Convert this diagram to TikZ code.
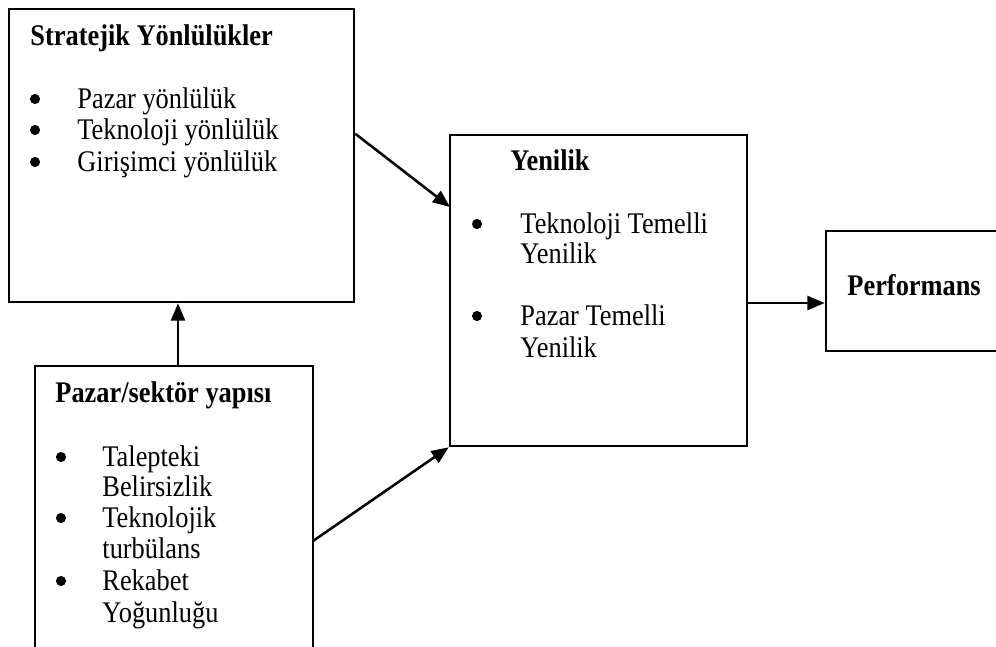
\documentclass[tikz,border=0pt]{standalone}
\usepackage{fontspec}
\setmainfont{Liberation Serif}[FakeStretch=0.88]
\usetikzlibrary{arrows.meta,fit}

\tikzset{
  box/.style={draw, line width=1.1pt, inner sep=0pt},
  txt/.style={font=\fontsize{13}{15}\selectfont},
  head/.style={anchor=base west, inner sep=0pt, font=\fontsize{13}{15}\selectfont\bfseries},
  item/.style={anchor=base west, inner sep=0pt, txt},
  dot/.style={circle, fill, inner sep=0pt, minimum size=4.4pt},
  link/.style={line width=1.1pt, -{Triangle[length=7.5pt,width=6pt]}}
}

\begin{document}
\begin{tikzpicture}[x=0.434pt, y=-0.434pt]

  \useasboundingbox (0,0) rectangle (996,646);
  \clip (0,0) rectangle (996,646);

  % Kutular
  \node[box, fit={(9,9) (354,302)}] (strat) {};
  \node[box, fit={(450,135) (747,446)}] (yen) {};
  \node[box, fit={(826,231) (1010,351)}] (perf) {};
  \node[box, fit={(35,366) (313,660)}] (yapi) {};

  % Stratejik Yönlülükler
  \node[head] (stratH) at (30,45) {Stratejik Yönlülükler};
  \foreach \y/\txt in {108/Pazar yönlülük, 139/Teknoloji yönlülük, 171/Girişimci yönlülük}{
    \node[dot] (sb\y) at (35,\y-9) {};
    \node[item] (st\y) at (77,\y) {\txt};
  }

  % Yenilik
  \node[head] (yenH) at (510,170) {Yenilik};
  \foreach \y in {233,325}{
    \node[dot] (yb\y) at (477,\y-9) {};
  }
  \foreach \y/\txt in {233/Teknoloji Temelli, 263/Yenilik, 325/Pazar Temelli, 357/Yenilik}{
    \node[item] (yt\y) at (520,\y) {\txt};
  }

  % Performans
  \node[head] (perfH) at (847,295) {Performans};

  % Pazar/sektör yapısı
  \node[head] (yapiH) at (55,402) {Pazar/sektör yapısı};
  \foreach \y in {466,527,590}{
    \node[dot] (pb\y) at (61,\y-9) {};
  }
  \foreach \y/\txt in {466/Talepteki, 496/Belirsizlik, 527/Teknolojik, 558/turbülans, 590/Rekabet, 622/Yoğunluğu}{
    \node[item] (pt\y) at (102,\y) {\txt};
  }

  % Oklar
  \coordinate (yenGiris) at (450,207);
  \coordinate (yapiUst) at (178,366);
  \coordinate (yapiSag) at (313,541);
  \coordinate (yenSag) at (747,303);
  \draw[link] (strat.east |- yen.north) -- (yenGiris);
  \draw[link] (yapiUst) -- (yapiUst |- strat.south);
  \draw[link] (yapiSag) -- (yen.south west);
  \draw[link] (yenSag) -- (yenSag -| perf.west);

\end{tikzpicture}
\end{document}
